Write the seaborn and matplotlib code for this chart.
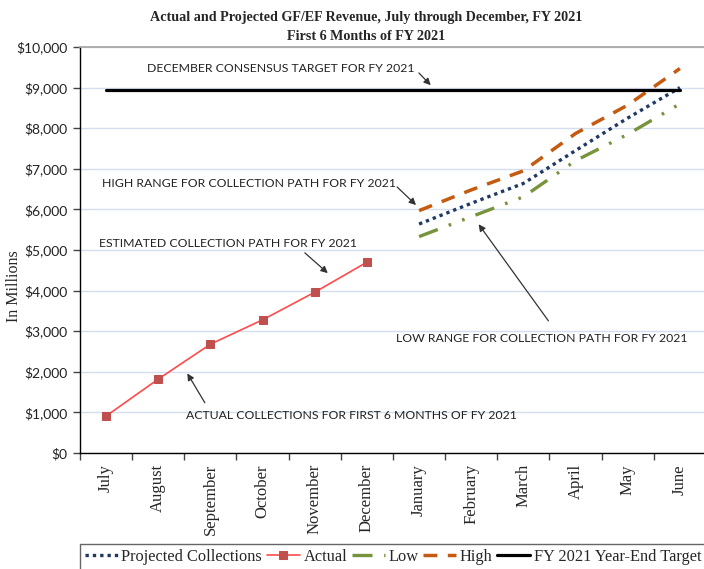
import matplotlib
matplotlib.use("Agg")
import matplotlib.pyplot as plt
import seaborn as sns
import pandas as pd
import numpy as np

months = ["July", "August", "September", "October", "November", "December",
          "January", "February", "March", "April", "May", "June"]
actual = [910, 1820, 2680, 3280, 3960, 4700]
projected = [5640, 6150, 6640, 7450, 8250, 9000]
low = [5330, 5820, 6310, 7200, 7850, 8600]
high = [5970, 6480, 6950, 7870, 8570, 9470]
target = 8930

sns.set_theme(style="white")
plt.rcParams["font.family"] = ["Liberation Serif", "DejaVu Serif"]

fig = plt.figure(figsize=(7.04, 5.69), dpi=100)
ax = fig.add_axes([80 / 704, 116 / 569, 626 / 704, 406 / 569])

idx = np.arange(len(months))
df_act = pd.DataFrame({"x": idx[:6], "y": actual})
df_proj = pd.DataFrame({"x": idx[6:], "y": projected})
df_low = pd.DataFrame({"x": idx[6:], "y": low})
df_high = pd.DataFrame({"x": idx[6:], "y": high})
df_tgt = pd.DataFrame({"x": idx, "y": [target] * len(months)})

sns.lineplot(data=df_proj, x="x", y="y", ax=ax, color="#1F3864", lw=2.4,
             linestyle=(0, (1, 1.2)), label="Projected Collections")
sns.lineplot(data=df_act, x="x", y="y", ax=ax, color="#FF4B4B", lw=1.2,
             marker="s", markersize=6, markerfacecolor="#C0504D",
             markeredgecolor="#C0504D", label="Actual")
sns.lineplot(data=df_low, x="x", y="y", ax=ax, color="#77933C", lw=2.4,
             linestyle=(0, (6, 3.5, 0.8, 3.5, 0.8, 3.5)), label="Low")
sns.lineplot(data=df_high, x="x", y="y", ax=ax, color="#C55A11", lw=2.5,
             linestyle=(0, (4, 3)), label="High")
sns.lineplot(data=df_tgt, x="x", y="y", ax=ax, color="black", lw=2.3,
             label="FY 2021 Year-End Target")

ax.set_xlim(-0.5, 11.5)
ax.set_ylim(0, 10000)
ax.set_yticks(range(0, 10001, 1000))
ax.set_yticklabels(["${:,}".format(v) for v in range(0, 10001, 1000)],
                   fontfamily="Lato", fontsize=10, color="#222222")
ax.yaxis.grid(True, color="#D3DEEE", lw=1)
ax.set_axisbelow(True)

ax.set_xticks(np.arange(-0.5, 12, 1))
ax.set_xticklabels([])
ax.set_xticks(idx, minor=True)
ax.set_xticklabels(months, minor=True, rotation=90, fontsize=12, va="top")
ax.tick_params(axis="x", which="major", direction="out", length=5, width=1,
               color="#444444", bottom=True)
ax.tick_params(axis="x", which="minor", length=0, pad=8)
ax.tick_params(axis="y", direction="out", length=5, width=1, color="#444444",
               left=True, pad=4)

for s in ["left", "bottom"]:
    ax.spines[s].set_color("black")
    ax.spines[s].set_linewidth(1)
ax.spines["top"].set_color("#A6A6A6")
ax.spines["right"].set_visible(False)

ax.set_xlabel("")
ax.set_ylabel("In Millions", fontsize=11.5, va="center")
ax.yaxis.set_label_coords(-66 / 626, 0.41)

fig.text(366 / 704, 1 - 18 / 569,
         "Actual and Projected GF/EF Revenue, July through December, FY 2021",
         ha="center", va="center", fontsize=10.2, fontweight="bold")
fig.text(366 / 704, 1 - 37 / 569, "First 6 Months of FY 2021",
         ha="center", va="center", fontsize=10.2, fontweight="bold")

note_kw = dict(fontfamily="Lato", fontsize=8.8, color="#222222", va="center", ha="left")
arrow_kw = dict(arrowstyle="-|>", color="#333333", lw=0.9, mutation_scale=10)
notes = [
    ("DECEMBER CONSENSUS TARGET FOR FY 2021", (0.79, 9460), (5.96, 9410), (6.26, 9010)),
    ("HIGH RANGE FOR COLLECTION PATH FOR FY 2021", (-0.08, 6650), (5.54, 6600), (5.98, 6060)),
    ("ESTIMATED COLLECTION PATH FOR FY 2021", (-0.13, 5150), (3.77, 4975), (4.29, 4385)),
    ("LOW RANGE FOR COLLECTION PATH FOR FY 2021", (5.56, 2830), (8.51, 3200), (7.11, 5690)),
    ("ACTUAL COLLECTIONS FOR FIRST 6 MONTHS OF FY 2021", (1.53, 935), (1.92, 1180), (1.53, 2020)),
]
for txt, pos, tail, head in notes:
    ax.text(pos[0], pos[1], txt, **note_kw)
    ax.annotate("", xy=head, xytext=tail, arrowprops=arrow_kw)

leg = ax.legend(loc="upper left", bbox_to_anchor=(80 / 704, 1 - 544 / 569),
                bbox_transform=fig.transFigure, ncol=5, frameon=True,
                fancybox=False, edgecolor="#404040", fontsize=11.8,
                handlelength=2.0, handletextpad=0.22, columnspacing=0.3,
                borderpad=0.3, borderaxespad=0)
leg.get_frame().set_linewidth(1)

fig.savefig("out.png", dpi=100)
